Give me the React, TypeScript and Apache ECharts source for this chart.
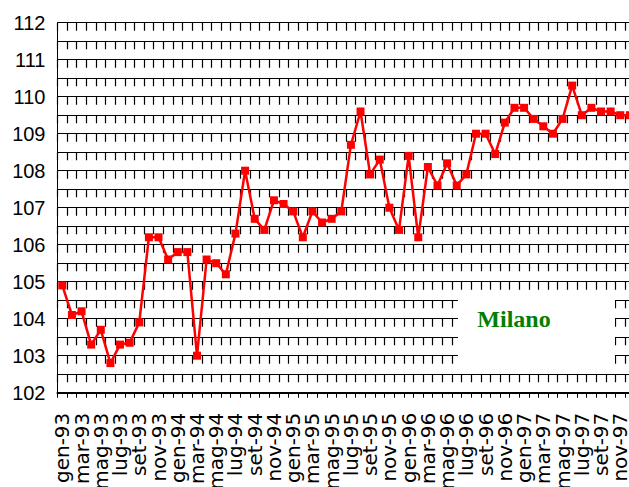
import React, { useEffect, useRef } from "react";
import * as echarts from "echarts";

const months = ["gen", "feb", "mar", "apr", "mag", "giu", "lug", "ago", "set", "ott", "nov", "dic"];
const years = ["93", "94", "95", "96", "97"];
const categories: string[] = [];
years.forEach((y) => months.forEach((m) => categories.push(m + "-" + y)));

const values1993 = [104.9, 104.1, 104.2, 103.3, 103.7, 102.8, 103.3, 103.35, 103.9, 106.2, 106.2, 105.6];
const values1994 = [105.8, 105.8, 103.0, 105.6, 105.5, 105.2, 106.3, 108.0, 106.7, 106.4, 107.2, 107.1];
const values1995 = [106.9, 106.2, 106.9, 106.6, 106.7, 106.9, 108.7, 109.6, 107.9, 108.3, 107.0, 106.4];
const values1996 = [108.4, 106.2, 108.1, 107.6, 108.2, 107.6, 107.9, 109.0, 109.0, 108.45, 109.3, 109.7];
const values1997 = [109.7, 109.4, 109.2, 109.0, 109.4, 110.3, 109.5, 109.7, 109.6, 109.6, 109.5, 109.5];
const values = [...values1993, ...values1994, ...values1995, ...values1996, ...values1997];

const yMin = 102;
const yMax = 112;
const labelText = "Milano";

export default function App() {
  const ref = useRef<HTMLDivElement>(null);
  useEffect(() => {
    if (!ref.current) return;
    const chart = echarts.init(ref.current, undefined, { renderer: "svg" });
    chart.setOption({
      animation: false,
      backgroundColor: "#fff",
      grid: {
        left: 57.5,
        top: 22.7,
        width: categories.length * 9.62,
        height: 370,
        containLabel: false,
        outerBoundsMode: "none",
      },
      xAxis: {
        type: "category",
        data: categories,
        boundaryGap: true,
        axisLine: { show: true, lineStyle: { color: "#000", width: 2 } },
        axisTick: { show: true, interval: 0, length: 5, lineStyle: { color: "#000", width: 1 } },
        axisLabel: {
          interval: 0,
          formatter: (v: string, i: number) => (i % 2 === 0 ? v : ""),
          rotate: 90,
          margin: 20,
          color: "#000",
          fontSize: 20,
          lineHeight: 10,
          fontFamily: "DejaVu Sans, Liberation Sans, Arial, sans-serif",
          padding: [9, 0, 0, 0],
          showMinLabel: true,
          showMaxLabel: false,
          hideOverlap: false,
        },
        splitLine: {
          show: true,
          interval: 0,
          lineStyle: { color: "#000", width: 1.2, type: [8, 10.5] },
        },
      },
      yAxis: {
        type: "value",
        min: yMin,
        max: yMax,
        interval: 1,
        axisLine: { show: true, lineStyle: { color: "#000", width: 1 } },
        axisTick: { show: false },
        axisLabel: {
          color: "#000",
          fontSize: 20,
          margin: 12,
          fontFamily: "Liberation Sans, Arial, sans-serif",
          showMinLabel: true,
          showMaxLabel: true,
          hideOverlap: false,
        },
        splitLine: { show: true, lineStyle: { color: "#000", width: 1 } },
        minorTick: { show: false, splitNumber: 2 },
        minorSplitLine: { show: true, lineStyle: { color: "#000", width: 1 } },
      },
      series: [
        {
          type: "line",
          data: values,
          symbol: "rect",
          symbolSize: 8,
          showAllSymbol: true,
          lineStyle: { color: "#ff0000", width: 2.5 },
          itemStyle: { color: "#ff0000" },
          z: 5,
        },
      ],
      graphic: [
        {
          type: "rect",
          shape: { x: 458, y: 297, width: 157, height: 70 },
          style: { fill: "#fff" },
          z: 10,
        },
        {
          type: "text",
          x: 514,
          y: 319,
          z: 11,
          style: {
            text: labelText,
            fill: "#008000",
            font: "bold 24px 'Liberation Serif', 'Times New Roman', serif",
            textAlign: "center",
            textVerticalAlign: "middle",
          },
        },
      ],
    });
    return () => chart.dispose();
  }, []);
  return (
    <div
      ref={ref}
      style={{ position: "fixed", left: 0, top: 0, width: 629, height: 487, background: "#fff" }}
    />
  );
}
